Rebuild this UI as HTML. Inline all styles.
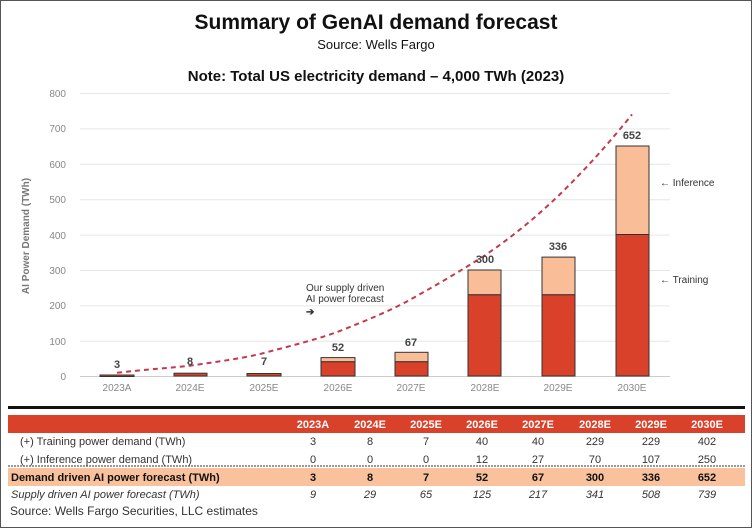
<!DOCTYPE html>
<html><head><style>
body{margin:0;background:#fff;}
.w{position:relative;width:752px;height:528px;overflow:hidden;font-family:"Liberation Sans",sans-serif;}
</style></head><body><div class="w">
<svg width="752" height="528" xmlns="http://www.w3.org/2000/svg" font-family="Liberation Sans, sans-serif">
<rect x="0.5" y="0.5" width="751" height="527" fill="#fff" stroke="#555" stroke-width="1"/>
<text x="376" y="29" text-anchor="middle" font-size="21" font-weight="bold" fill="#111">Summary of GenAI demand forecast</text>
<text x="376" y="49" text-anchor="middle" font-size="13" fill="#111">Source: Wells Fargo</text>
<text x="376" y="81" text-anchor="middle" font-size="15" font-weight="bold" fill="#111">Note: Total US electricity demand – 4,000 TWh (2023)</text>
<g stroke="#e6e6e6" stroke-width="1">
<line x1="80" x2="670" y1="93.5" y2="93.5"/><line x1="80" x2="670" y1="128.9" y2="128.9"/>
<line x1="80" x2="670" y1="164.3" y2="164.3"/><line x1="80" x2="670" y1="199.7" y2="199.7"/>
<line x1="80" x2="670" y1="235.1" y2="235.1"/><line x1="80" x2="670" y1="270.5" y2="270.5"/>
<line x1="80" x2="670" y1="305.9" y2="305.9"/><line x1="80" x2="670" y1="341.3" y2="341.3"/>
<line x1="80" x2="670" y1="376.5" y2="376.5" stroke="#ccc"/>
</g>
<g font-size="10" fill="#888" text-anchor="end">
<text x="66" y="97">800</text><text x="66" y="132">700</text><text x="66" y="168">600</text><text x="66" y="203">500</text><text x="66" y="239">400</text><text x="66" y="274">300</text><text x="66" y="309">200</text><text x="66" y="345">100</text><text x="66" y="380">0</text>
</g>
<text transform="translate(29,236) rotate(-90)" text-anchor="middle" font-size="10" font-weight="bold" fill="#777">AI Power Demand (TWh)</text>
<g stroke="#333" stroke-width="1">
<rect x="100" y="375" width="34" height="1.5" fill="#d9412a"/>
<rect x="174" y="373.2" width="33" height="2.8" fill="#d9412a"/>
<rect x="247" y="373.5" width="34" height="2.5" fill="#d9412a"/>
<rect x="321" y="357.6" width="34" height="4.2" fill="#f9bd98"/><rect x="321" y="361.8" width="34" height="14.2" fill="#d9412a"/>
<rect x="395" y="352.3" width="33" height="9.5" fill="#f9bd98"/><rect x="395" y="361.8" width="33" height="14.2" fill="#d9412a"/>
<rect x="468" y="270" width="33" height="24.8" fill="#f9bd98"/><rect x="468" y="294.8" width="33" height="81.2" fill="#d9412a"/>
<rect x="542" y="257.1" width="33" height="37.7" fill="#f9bd98"/><rect x="542" y="294.8" width="33" height="81.2" fill="#d9412a"/>
<rect x="616" y="146" width="33" height="88.5" fill="#f9bd98"/><rect x="616" y="234.5" width="33" height="141.5" fill="#d9412a"/>
</g>
<path d="M117,372.8 C150,369 170,368 190,365.7 C215,362 240,359 264,353 C290,346 315,340 338,331.7 C365,321 390,311 411,299.2 C440,283 462,270 485,255.3 C512,237 535,218 558,196.2 C585,170 610,142 632,114.4" fill="none" stroke="#c33a4e" stroke-width="2" stroke-dasharray="5,4"/>
<g font-size="11" font-weight="bold" fill="#444" text-anchor="middle">
<text x="117" y="368">3</text><text x="190" y="365">8</text><text x="264" y="365">7</text><text x="338" y="351">52</text><text x="411" y="346">67</text><text x="485" y="263">300</text><text x="558" y="250">336</text><text x="632" y="139">652</text>
</g>
<g font-size="10" fill="#888" text-anchor="middle">
<text x="117" y="391">2023A</text><text x="190" y="391">2024E</text><text x="264" y="391">2025E</text><text x="338" y="391">2026E</text><text x="411" y="391">2027E</text><text x="485" y="391">2028E</text><text x="558" y="391">2029E</text><text x="632" y="391">2030E</text>
</g>
<g font-size="10" fill="#333">
<text x="306" y="291">Our supply driven</text><text x="306" y="302">AI power forecast</text>
<text x="306" y="315" font-weight="bold">➔</text>
<text x="660" y="186"><tspan font-weight="bold">←</tspan> Inference</text>
<text x="660" y="283"><tspan font-weight="bold">←</tspan> Training</text>
</g>
<rect x="8" y="406" width="737" height="3" fill="#111"/>
<rect x="8" y="415" width="737" height="18" fill="#d9412a"/>
<g font-size="11" font-weight="bold" fill="#fff" text-anchor="middle">
<text x="313" y="428">2023A</text><text x="370" y="428">2024E</text><text x="426" y="428">2025E</text><text x="482" y="428">2026E</text><text x="538" y="428">2027E</text><text x="595" y="428">2028E</text><text x="651" y="428">2029E</text><text x="707" y="428">2030E</text>
</g>
<rect x="8" y="468" width="737" height="18" fill="#f9c19c"/>
<line x1="8" x2="745" y1="466" y2="466" stroke="#333" stroke-dasharray="2,1"/>
<g font-size="11" fill="#333" text-anchor="middle">
<text x="20" y="445" text-anchor="start">(+) Training power demand (TWh)</text>
<text x="313" y="445">3</text><text x="370" y="445">8</text><text x="426" y="445">7</text><text x="482" y="445">40</text><text x="538" y="445">40</text><text x="595" y="445">229</text><text x="651" y="445">229</text><text x="707" y="445">402</text>
<text x="20" y="463" text-anchor="start">(+) Inference power demand (TWh)</text>
<text x="313" y="463">0</text><text x="370" y="463">0</text><text x="426" y="463">0</text><text x="482" y="463">12</text><text x="538" y="463">27</text><text x="595" y="463">70</text><text x="651" y="463">107</text><text x="707" y="463">250</text>
</g>
<g font-size="11" font-weight="bold" fill="#111" text-anchor="middle">
<text x="11" y="481" text-anchor="start">Demand driven AI power forecast (TWh)</text>
<text x="313" y="481">3</text><text x="370" y="481">8</text><text x="426" y="481">7</text><text x="482" y="481">52</text><text x="538" y="481">67</text><text x="595" y="481">300</text><text x="651" y="481">336</text><text x="707" y="481">652</text>
</g>
<g font-size="11" font-style="italic" fill="#333" text-anchor="middle">
<text x="11" y="498" text-anchor="start">Supply driven AI power forecast (TWh)</text>
<text x="313" y="498">9</text><text x="370" y="498">29</text><text x="426" y="498">65</text><text x="482" y="498">125</text><text x="538" y="498">217</text><text x="595" y="498">341</text><text x="651" y="498">508</text><text x="707" y="498">739</text>
</g>
<text x="10" y="515" font-size="12" fill="#333">Source: Wells Fargo Securities, LLC estimates</text>
</svg>
</div></body></html>
